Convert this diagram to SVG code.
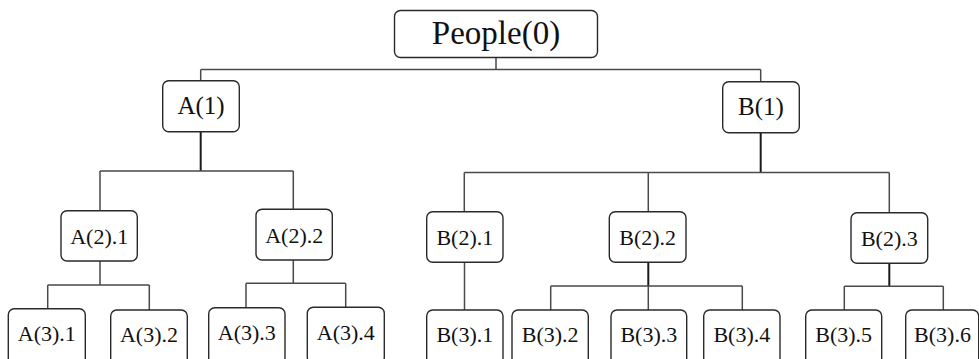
<svg xmlns="http://www.w3.org/2000/svg" width="979" height="359" viewBox="0 0 979 359">
<style>
.box{fill:#fff;stroke:#2a2a2a;stroke-width:1.4}
.t{font-family:"Liberation Serif","Times New Roman",serif;fill:#111;text-anchor:middle}
.t0{font-size:33px}
.t1{font-size:25px}
.t2{font-size:22px}
.c{fill:none;stroke:#4a4a4a;stroke-width:1.5}
.ck{fill:none;stroke:#1a1a1a;stroke-width:2}
</style>
<rect width="979" height="359" fill="#fff"/>
<g id="connectors">
<path class="c" d="M496 57.5V69.5M200.7 69.5H760.7M200.7 69.5V80.7M760.7 69.5V81.7"/>
<path class="ck" d="M200.7 131.7V171"/>
<path class="c" d="M100 171H293.3M100 171V210.7M293.3 171V209.3"/>
<path class="c" d="M100 261V285M47.7 285H149.3M47.7 285V308.7M149.3 285V310"/>
<path class="c" d="M293.3 260V283.3M246 283.3H345.7M246 283.3V307.7M345.7 283.3V307.3"/>
<path class="ck" d="M760.7 132.7V172.5"/>
<path class="c" d="M464.3 172.5H889.3M464.3 172.5V211.7M648.3 172.5V211.7M889.3 172.5V212.7"/>
<path class="c" d="M464.5 262.3V310"/>
<path class="ck" d="M648.3 262.3V286"/>
<path class="c" d="M648.3 286V310M550.7 286H742.3M550.7 286V310M742.3 286V310"/>
<path class="ck" d="M889.3 263.3V286.3"/>
<path class="c" d="M844.3 286.3H943.3M844.3 286.3V310M943.3 286.3V310"/>
</g>
<g id="people"><rect class="box" x="394.5" y="10.5" width="203" height="47" rx="6"/><text class="t t0" x="496" y="44">People(0)</text></g>
<g id="a1"><rect class="box" x="162.7" y="80.7" width="76.6" height="51" rx="6"/><text class="t t1" x="201" y="114">A(1)</text></g>
<g id="b1"><rect class="box" x="722.7" y="81.7" width="76.6" height="51" rx="6"/><text class="t t1" x="761" y="115">B(1)</text></g>
<g id="a2-1"><rect class="box" x="61" y="210.7" width="76.3" height="50.3" rx="6"/><text class="t t2" x="99.2" y="243.5">A(2).1</text></g>
<g id="a2-2"><rect class="box" x="256" y="209.3" width="76.3" height="50.7" rx="6"/><text class="t t2" x="294.2" y="242.5">A(2).2</text></g>
<g id="b2-1"><rect class="box" x="426.7" y="211.7" width="76.3" height="50.6" rx="6"/><text class="t t2" x="464.8" y="244.5">B(2).1</text></g>
<g id="b2-2"><rect class="box" x="609.3" y="211.7" width="76.7" height="50.6" rx="6"/><text class="t t2" x="647.7" y="244.5">B(2).2</text></g>
<g id="b2-3"><rect class="box" x="851" y="212.7" width="76.7" height="50.6" rx="6"/><text class="t t2" x="889.3" y="245.5">B(2).3</text></g>
<g id="a3-1"><rect class="box" x="8.3" y="308.7" width="77" height="56" rx="6"/><text class="t t2" x="46.8" y="341">A(3).1</text></g>
<g id="a3-2"><rect class="box" x="110.7" y="310" width="76.6" height="56" rx="6"/><text class="t t2" x="149" y="342">A(3).2</text></g>
<g id="a3-3"><rect class="box" x="208.7" y="307.7" width="76.3" height="56" rx="6"/><text class="t t2" x="246.8" y="340">A(3).3</text></g>
<g id="a3-4"><rect class="box" x="307.3" y="307.3" width="77" height="56" rx="6"/><text class="t t2" x="345.8" y="340">A(3).4</text></g>
<g id="b3-1"><rect class="box" x="426.7" y="310" width="76.3" height="56" rx="6"/><text class="t t2" x="464.8" y="342">B(3).1</text></g>
<g id="b3-2"><rect class="box" x="512" y="310" width="76.3" height="56" rx="6"/><text class="t t2" x="550.2" y="342">B(3).2</text></g>
<g id="b3-3"><rect class="box" x="611" y="310" width="75.7" height="56" rx="6"/><text class="t t2" x="648.8" y="342">B(3).3</text></g>
<g id="b3-4"><rect class="box" x="703.7" y="310" width="76.3" height="56" rx="6"/><text class="t t2" x="741.8" y="342">B(3).4</text></g>
<g id="b3-5"><rect class="box" x="805.7" y="310" width="76" height="56" rx="6"/><text class="t t2" x="843.7" y="342">B(3).5</text></g>
<g id="b3-6"><rect class="box" x="905.7" y="310" width="73" height="56" rx="6"/><text class="t t2" x="942.5" y="342">B(3).6</text></g>
</svg>
